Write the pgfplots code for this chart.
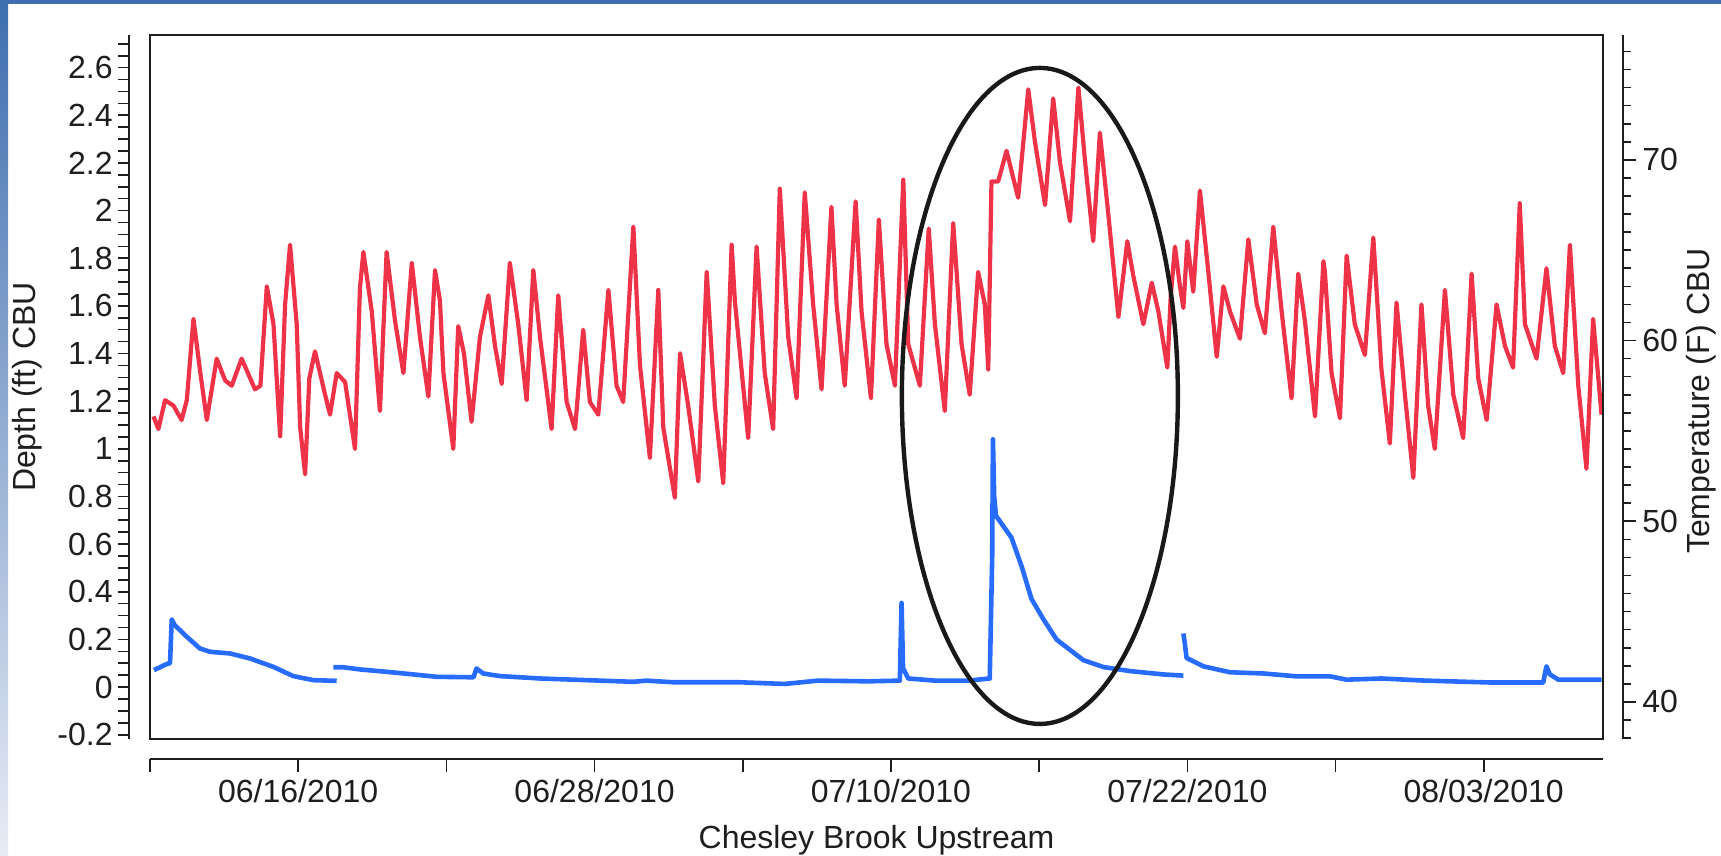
\documentclass[border=0pt]{standalone}
\usepackage{pgfplots}
\usepackage{pgfplotstable}
\pgfplotsset{compat=1.18}
\usepackage{fontspec}
\setmainfont{Liberation Sans}

\definecolor{tempred}{RGB}{238,50,72}
\definecolor{depthblue}{RGB}{40,108,255}
\definecolor{frametop}{RGB}{62,110,175}
\definecolor{framebot}{RGB}{232,236,245}
\definecolor{ink}{RGB}{30,30,30}

% Water temperature (F), days since 06/10/2010
\pgfplotstableread{
day temp
0.14 55.8
0.34 55.1
0.61 56.7
0.95 56.4
1.28 55.6
1.49 56.7
1.76 61.2
2.02 58.4
2.30 55.6
2.70 59.0
3.04 57.8
3.31 57.5
3.71 59.0
4.25 57.3
4.47 57.5
4.73 63.0
5.00 60.9
5.27 54.7
5.47 62.0
5.67 65.3
5.94 60.9
6.08 55.2
6.28 52.6
6.45 57.9
6.68 59.4
7.09 57.0
7.29 55.9
7.56 58.2
7.90 57.7
8.30 54.0
8.50 62.9
8.64 64.9
8.98 61.6
9.31 56.1
9.58 64.9
9.92 61.1
10.26 58.2
10.60 64.3
10.93 60.2
11.27 56.9
11.54 63.9
11.74 62.2
11.88 58.2
12.28 54.0
12.48 60.8
12.71 59.3
13.02 55.5
13.36 60.2
13.70 62.5
13.97 59.7
14.24 57.6
14.57 64.3
14.91 60.9
15.25 56.7
15.52 63.9
15.79 60.2
16.26 55.1
16.53 62.5
16.87 56.6
17.21 55.1
17.54 60.6
17.81 56.6
18.15 55.9
18.56 62.8
18.89 57.5
19.16 56.6
19.57 66.3
19.84 58.6
20.24 53.5
20.58 62.8
20.78 55.2
21.25 51.3
21.46 59.3
21.79 56.4
22.20 52.2
22.54 63.8
22.87 56.4
23.21 52.1
23.55 65.3
23.68 62.2
24.22 54.6
24.56 65.2
24.89 58.2
25.23 55.1
25.50 68.4
25.84 60.2
26.18 56.8
26.51 68.2
26.85 62.0
27.19 57.3
27.59 67.4
27.80 62.0
28.13 57.5
28.57 67.7
28.81 61.6
29.19 56.8
29.51 66.7
29.82 59.8
30.16 57.5
30.50 68.9
30.70 59.8
31.17 57.5
31.53 66.2
31.78 60.9
32.18 56.1
32.52 66.5
32.86 59.8
33.19 57.0
33.53 63.8
33.80 62.0
33.94 58.4
34.07 68.8
34.34 68.8
34.68 70.5
35.15 67.9
35.56 73.9
35.83 71.0
36.24 67.5
36.57 73.4
36.84 69.9
37.25 66.6
37.59 74.0
37.86 69.9
38.19 65.5
38.46 71.5
38.80 67.0
39.21 61.3
39.57 65.5
39.81 63.6
40.22 60.9
40.56 63.2
40.83 61.6
41.19 58.5
41.33 62.5
41.50 65.2
41.70 63.0
41.84 61.8
42.00 65.5
42.24 62.7
42.51 68.3
42.85 63.8
43.19 59.1
43.46 63.0
43.73 61.6
44.13 60.1
44.47 65.6
44.81 62.0
45.14 60.4
45.48 66.3
45.82 61.6
46.22 56.8
46.49 63.7
46.76 61.1
47.17 55.8
47.51 64.4
47.57 63.8
47.84 58.2
48.18 55.7
48.45 64.7
48.78 60.9
49.19 59.2
49.53 65.7
49.86 58.4
50.20 54.3
50.47 62.1
50.81 57.0
51.15 52.4
51.48 62.0
51.75 56.4
52.02 54.0
52.43 62.8
52.77 57.0
53.17 54.6
53.51 63.7
53.78 57.9
54.12 55.6
54.52 62.0
54.86 59.7
55.19 58.5
55.46 67.6
55.67 60.9
56.14 59.0
56.54 64.0
56.88 59.7
57.22 58.2
57.49 65.3
57.83 57.5
58.16 52.9
58.43 61.2
58.77 55.9
}\temptable

% Water depth (ft), three logger records
\pgfplotstableread{
day depth
0.16 0.071
0.68 0.097
0.81 0.100
0.88 0.284
1.00 0.260
1.49 0.211
2.02 0.162
2.43 0.148
3.24 0.141
4.05 0.120
4.99 0.085
5.80 0.046
6.61 0.029
7.56 0.026
}\depthA

\pgfplotstableread{
day depth
7.42 0.083
7.83 0.083
8.50 0.074
9.58 0.064
10.66 0.053
11.61 0.043
13.10 0.041
13.22 0.078
13.49 0.057
14.17 0.046
15.79 0.036
17.14 0.031
19.57 0.022
20.10 0.027
21.20 0.020
23.90 0.020
25.70 0.013
27.05 0.027
29.08 0.024
30.36 0.027
30.43 0.353
30.49 0.079
30.70 0.036
31.78 0.027
33.13 0.027
34.00 0.036
34.10 0.550
34.13 1.040
34.18 0.800
34.25 0.720
34.45 0.690
34.88 0.627
35.29 0.507
35.69 0.370
36.17 0.285
36.71 0.199
37.25 0.156
37.79 0.113
38.60 0.084
39.68 0.067
41.03 0.053
41.84 0.048
}\depthB

\pgfplotstableread{
day depth
41.84 0.225
41.90 0.182
41.97 0.122
42.65 0.087
43.73 0.062
45.08 0.057
46.43 0.045
47.78 0.045
48.45 0.031
49.86 0.036
51.62 0.027
54.32 0.019
55.67 0.019
56.41 0.019
56.54 0.087
56.68 0.053
57.02 0.031
58.77 0.031
}\depthC

\newcommand\chartfont{\fontsize{16}{19}\selectfont}

\pgfplotsset{
  common/.style={
    scale only axis, width=726.5pt, height=352pt,
    xmin=0, xmax=58.83, anchor=south west,
    tick label style={font=\chartfont, text=ink},
    axis line style={ink, line width=1pt, -},
    major tick style={ink, line width=0.8pt},
    minor tick style={ink, line width=0.8pt},
    tick align=outside,
  }
}

\begin{document}
\begin{tikzpicture}
\useasboundingbox (0,0) rectangle (860.5pt,428pt);
\fill[white] (0,0) rectangle (860.5pt,428pt);
\shade[top color=frametop, bottom color=framebot] (0,0) rectangle (4pt,428pt);
\fill[frametop] (0,426pt) rectangle (860.5pt,428pt);

% temperature trace (right scale)
\begin{axis}[common, at={(75pt,58.5pt)}, ymin=37.95, ymax=76.91, hide axis]
\addplot[tempred, line width=2.1pt, line join=round] table[x=day, y=temp] {\temptable};
\end{axis}

% depth traces in the framed plot area
\begin{axis}[common, at={(75pt,58.5pt)}, ymin=-0.218, ymax=2.737,
  xtick=\empty, ytick=\empty]
\addplot[depthblue, line width=2.3pt, line join=round] table[x=day, y=depth] {\depthA};
\addplot[depthblue, line width=2.3pt, line join=round] table[x=day, y=depth] {\depthB};
\addplot[depthblue, line width=2.3pt, line join=round] table[x=day, y=depth] {\depthC};
\draw[black!90, line width=2.2pt] (axis cs:36.03,1.222) ellipse [x radius=69pt, y radius=164pt];
\end{axis}

% left depth scale
\begin{axis}[common, at={(64.5pt,58.5pt)}, ymin=-0.218, ymax=2.737,
  axis x line=none, axis y line*=left,
  ytick={-0.2,0,0.2,0.4,0.6,0.8,1,1.2,1.4,1.6,1.8,2,2.2,2.4,2.6},
  yticklabels={-0.2,0,0.2,0.4,0.6,0.8,1,1.2,1.4,1.6,1.8,2,2.2,2.4,2.6},
  minor ytick={-0.15,-0.1,...,2.71},
  major tick length=5.5pt, minor tick length=5.5pt,
  yticklabel style={inner xsep=2.5pt},
  ylabel={Depth (ft) CBU},
  every axis y label/.style={at={(axis description cs:-0.0702,0.5)}, rotate=90, anchor=center, font=\chartfont, text=ink}]
\end{axis}

% right temperature scale
\begin{axis}[common, at={(85pt,58.5pt)}, ymin=37.95, ymax=76.91,
  axis x line=none, axis y line*=right,
  ytick={40,50,60,70}, yticklabels={40,50,60,70},
  minor ytick={38,39,...,76},
  major tick length=6.5pt, minor tick length=4pt,
  yticklabel style={inner xsep=3pt},
  ylabel={Temperature (F) CBU},
  every axis y label/.style={at={(axis description cs:1.0537,0.48)}, rotate=90, anchor=center, font=\chartfont, text=ink}]
\end{axis}

% date scale
\begin{axis}[common, at={(75pt,48.5pt)}, ymin=0, ymax=1,
  axis y line=none, axis x line*=bottom,
  xtick={0,6,...,54},
  xticklabels={,06/16/2010,,06/28/2010,,07/10/2010,,07/22/2010,,08/03/2010},
  major tick length=6.5pt,
  xlabel={Chesley Brook Upstream},
  every axis x label/.style={at={(axis description cs:0.5,-0.115)}, anchor=center, font=\chartfont, text=ink}]
\end{axis}
\end{tikzpicture}
\end{document}
